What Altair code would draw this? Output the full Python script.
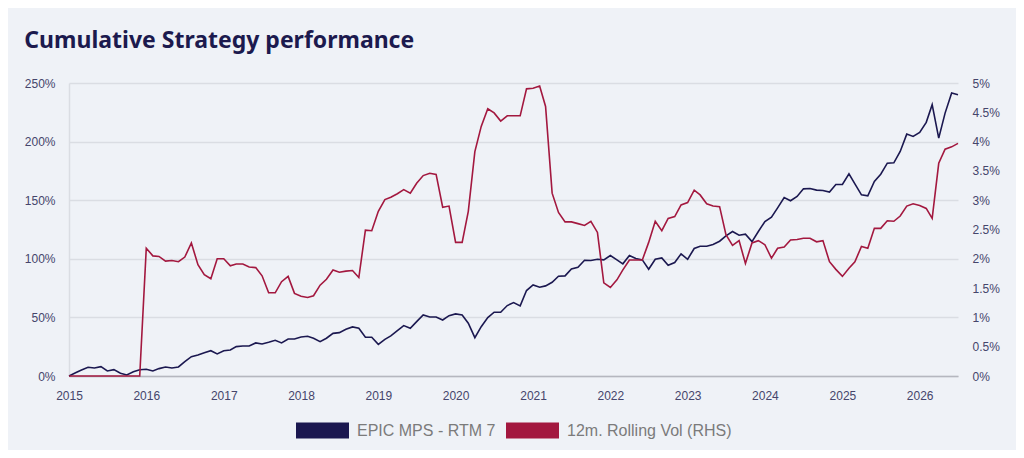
import pandas as pd
import altair as alt

# monthly points, Jan 2015 .. Jul 2026
months = pd.date_range("2015-01-01", periods=139, freq="MS")

# cumulative performance, % (left axis)
epic_mps = [
    0.0, 2.8, 5.1, 7.4, 6.8, 8.0, 4.3, 5.4, 2.3, 0.9, 3.7, 5.4,
    5.7, 4.3, 6.3, 7.7, 6.8, 7.7, 12.2, 16.5, 17.9, 19.9, 21.6, 18.8,
    21.6, 22.2, 25.1, 25.6, 25.6, 28.2, 27.3, 28.8, 30.5, 28.2, 31.6, 31.6,
    33.3, 33.9, 32.2, 29.3, 32.2, 36.4, 37.0, 39.9, 41.9, 40.7, 33.0, 33.0,
    27.0, 31.3, 34.2, 38.7, 43.0, 40.7, 46.4, 52.1, 50.4, 50.4, 47.8, 51.5,
    53.0, 52.1, 45.0, 32.7, 42.1, 49.8, 54.4, 54.4, 60.1, 62.6, 59.8, 72.9,
    77.7, 75.7, 76.9, 80.0, 85.1, 85.4, 91.4, 92.8, 98.8, 98.5, 99.6, 99.1,
    102.8, 99.1, 95.7, 102.8, 100.2, 99.1, 91.1, 99.6, 100.8, 94.5, 96.8, 104.2,
    99.6, 108.8, 110.7, 110.7, 112.2, 115.0, 119.6, 123.3, 120.1, 121.0, 114.7, 123.3,
    131.8, 135.5, 143.5, 152.3, 149.5, 153.2, 159.7, 160.0, 158.6, 158.3, 156.9, 163.4,
    163.4, 172.5, 164.0, 154.6, 153.7, 166.0, 172.2, 181.6, 181.9, 191.6, 206.4, 204.4,
    207.8, 216.4, 231.5, 203.0, 224.3, 241.4, 240.0,
]

# 12m rolling volatility, % (right axis)
rolling_vol = [
    0, 0, 0, 0, 0, 0, 0, 0, 0, 0, 0, 0,
    2.18, 2.05, 2.04, 1.96, 1.97, 1.95, 2.03, 2.27, 1.90, 1.73, 1.66, 2.00,
    2.00, 1.88, 1.91, 1.91, 1.86, 1.85, 1.71, 1.42, 1.42, 1.61, 1.70, 1.41,
    1.36, 1.34, 1.37, 1.55, 1.65, 1.81, 1.77, 1.79, 1.80, 1.68, 2.49, 2.48,
    2.81, 3.01, 3.05, 3.11, 3.18, 3.12, 3.29, 3.42, 3.46, 3.44, 2.88, 2.90,
    2.28, 2.28, 2.81, 3.83, 4.26, 4.56, 4.49, 4.35, 4.44, 4.44, 4.44, 4.90,
    4.91, 4.95, 4.60, 3.12, 2.79, 2.63, 2.63, 2.60, 2.57, 2.64, 2.45, 1.59,
    1.51, 1.64, 1.81, 1.98, 1.98, 1.98, 2.28, 2.64, 2.48, 2.69, 2.72, 2.92,
    2.96, 3.17, 3.09, 2.94, 2.90, 2.89, 2.41, 2.23, 2.31, 1.92, 2.27, 2.31,
    2.24, 2.01, 2.18, 2.20, 2.32, 2.33, 2.35, 2.35, 2.29, 2.31, 1.95, 1.82,
    1.70, 1.84, 1.95, 2.21, 2.18, 2.52, 2.52, 2.65, 2.64, 2.73, 2.90, 2.94,
    2.91, 2.86, 2.69, 3.63, 3.87, 3.91, 3.97,
]

SERIES = ["EPIC MPS - RTM 7", "12m. Rolling Vol (RHS)"]
COLORS = ["#1b1850", "#a3183f"]
LABEL_COLOR = "#45456b"
GRID_COLOR = "#dadde3"

df = pd.concat([
    pd.DataFrame({"date": months, "value": epic_mps, "series": SERIES[0]}),
    pd.DataFrame({"date": months, "value": rolling_vol, "series": SERIES[1]}),
])

x_axis = alt.X(
    "date:T", title=None,
    scale=alt.Scale(domain=[alt.DateTime(year=2015, month=1, date=1),
                            alt.DateTime(year=2026, month=7, date=1)]),
    axis=alt.Axis(format="%Y", tickCount={"interval": "year", "step": 1},
                  grid=False, ticks=False, domainColor="#b5b7bf", domainWidth=1.5,
                  labelColor=LABEL_COLOR, labelFontSize=12, labelFont="Liberation Sans",
                  labelPadding=14, labelAngle=0, labelFlush=False)
)

color = alt.Color(
    "series:N", sort=SERIES,
    scale=alt.Scale(domain=SERIES, range=COLORS),
    legend=alt.Legend(title=None, orient="none", legendX=219, legendY=313,
                      direction="horizontal", symbolType="stroke", symbolSize=2809,
                      symbolStrokeWidth=16, labelFontSize=16, labelColor="#7b7b7b",
                      labelFont="Liberation Sans", labelLimit=400, gridAlign="none",
                      columnPadding=-22, labelOffset=0, padding=0)
)

left = alt.Chart(df).mark_line(strokeWidth=1.6).encode(
    x=x_axis,
    y=alt.Y("value:Q", title=None, scale=alt.Scale(domain=[0, 250]),
            axis=alt.Axis(values=[0, 50, 100, 150, 200, 250], labelExpr="datum.value + '%'",
                          gridColor=GRID_COLOR, gridWidth=1.5, ticks=False,
                          domainColor=GRID_COLOR, domainWidth=1.5,
                          labelColor=LABEL_COLOR, labelFontSize=12,
                          labelFont="Liberation Sans", labelPadding=14)),
    color=color
).transform_filter(alt.datum.series == SERIES[0])

right = alt.Chart(df).mark_line(strokeWidth=1.6).encode(
    x=x_axis,
    y=alt.Y("value:Q", title=None, scale=alt.Scale(domain=[0, 5]),
            axis=alt.Axis(orient="right", values=[0, 0.5, 1, 1.5, 2, 2.5, 3, 3.5, 4, 4.5, 5],
                          labelExpr="datum.value + '%'", grid=False, ticks=False, domain=False,
                          labelColor=LABEL_COLOR, labelFontSize=12,
                          labelFont="Liberation Sans", labelPadding=14)),
    color=color
).transform_filter(alt.datum.series == SERIES[1])

chart = alt.layer(left, right).resolve_scale(y="independent").properties(
    width=889, height=293,
    autosize=alt.AutoSizeParams(type="none"),
    padding={"left": 61, "top": 75, "right": 58, "bottom": 74},
    background="#eff2f7",
    title=alt.TitleParams("Cumulative Strategy performance", anchor="start",
                          offset=6, baseline="alphabetic", fontSize=23,
                          font="Noto Sans", fontWeight="bold", color="#1c1a4e"),
).configure_view(stroke=None)

chart.save("out.html", embed_options={"renderer": "svg", "actions": False})
